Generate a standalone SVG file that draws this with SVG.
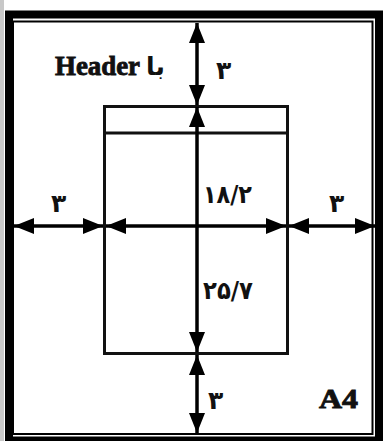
<svg xmlns="http://www.w3.org/2000/svg" width="384" height="441" viewBox="0 0 384 441">
<style>
.frame{fill:none;stroke:#000}
.box{fill:none;stroke:#111;stroke-width:3}
.dim{fill:none;stroke:#000;stroke-width:3.5}
.num{font-family:"DejaVu Sans","Noto Sans",sans-serif;font-weight:bold;font-size:25px;fill:#111}
.lbl{font-family:"Liberation Serif","DejaVu Serif",serif;font-weight:bold;fill:#111;stroke:#111;stroke-width:0.9}
</style>
<defs>
<marker id="ah" markerUnits="userSpaceOnUse" markerWidth="22" markerHeight="16" refX="20" refY="8" orient="auto-start-reverse">
<path d="M0,0 L20,8 L0,16 Z" fill="#000"/>
</marker>
</defs>
<rect x="0" y="0" width="384" height="441" fill="#fff"/>
<rect x="0" y="0" width="4" height="441" fill="#c8c8c8"/>
<g id="page">
<rect class="frame" x="9" y="14.5" width="370" height="426" stroke-width="8"/>
<rect class="frame" x="13" y="21.5" width="359.5" height="412.5" stroke-width="2"/>
</g>
<g id="textblock">
<rect class="box" x="104.5" y="106.5" width="183" height="247"/>
<line class="box" x1="104.5" y1="133" x2="287.5" y2="133"/>
</g>
<g id="connectors">
<line class="dim" x1="197" y1="23" x2="197" y2="105" marker-start="url(#ah)" marker-end="url(#ah)"/>
<line class="dim" x1="197" y1="107" x2="197" y2="352" marker-start="url(#ah)" marker-end="url(#ah)"/>
<line class="dim" x1="197" y1="355" x2="197" y2="433" marker-start="url(#ah)" marker-end="url(#ah)"/>
<line class="dim" x1="14" y1="226" x2="103" y2="226" marker-start="url(#ah)" marker-end="url(#ah)"/>
<line class="dim" x1="106" y1="226" x2="286" y2="226" marker-start="url(#ah)" marker-end="url(#ah)"/>
<line class="dim" x1="289" y1="226" x2="375" y2="226" marker-start="url(#ah)" marker-end="url(#ah)"/>
</g>
<g id="labels">
<text class="lbl" x="55" y="75" font-size="28" textLength="85" lengthAdjust="spacingAndGlyphs">Header</text>
<text class="num" x="146" y="75" font-size="26">با</text>
<text class="num" x="216" y="79">۳</text>
<text class="num" x="51" y="212">۳</text>
<text class="num" x="329" y="212">۳</text>
<text class="num" x="203" y="203" textLength="49" lengthAdjust="spacingAndGlyphs">۱۸/۲</text>
<text class="num" x="203" y="299" textLength="50" lengthAdjust="spacingAndGlyphs">۲۵/۷</text>
<text class="num" x="208" y="409">۳</text>
<text class="lbl" x="319" y="408" font-size="28" textLength="39" lengthAdjust="spacingAndGlyphs">A4</text>
</g>
</svg>
